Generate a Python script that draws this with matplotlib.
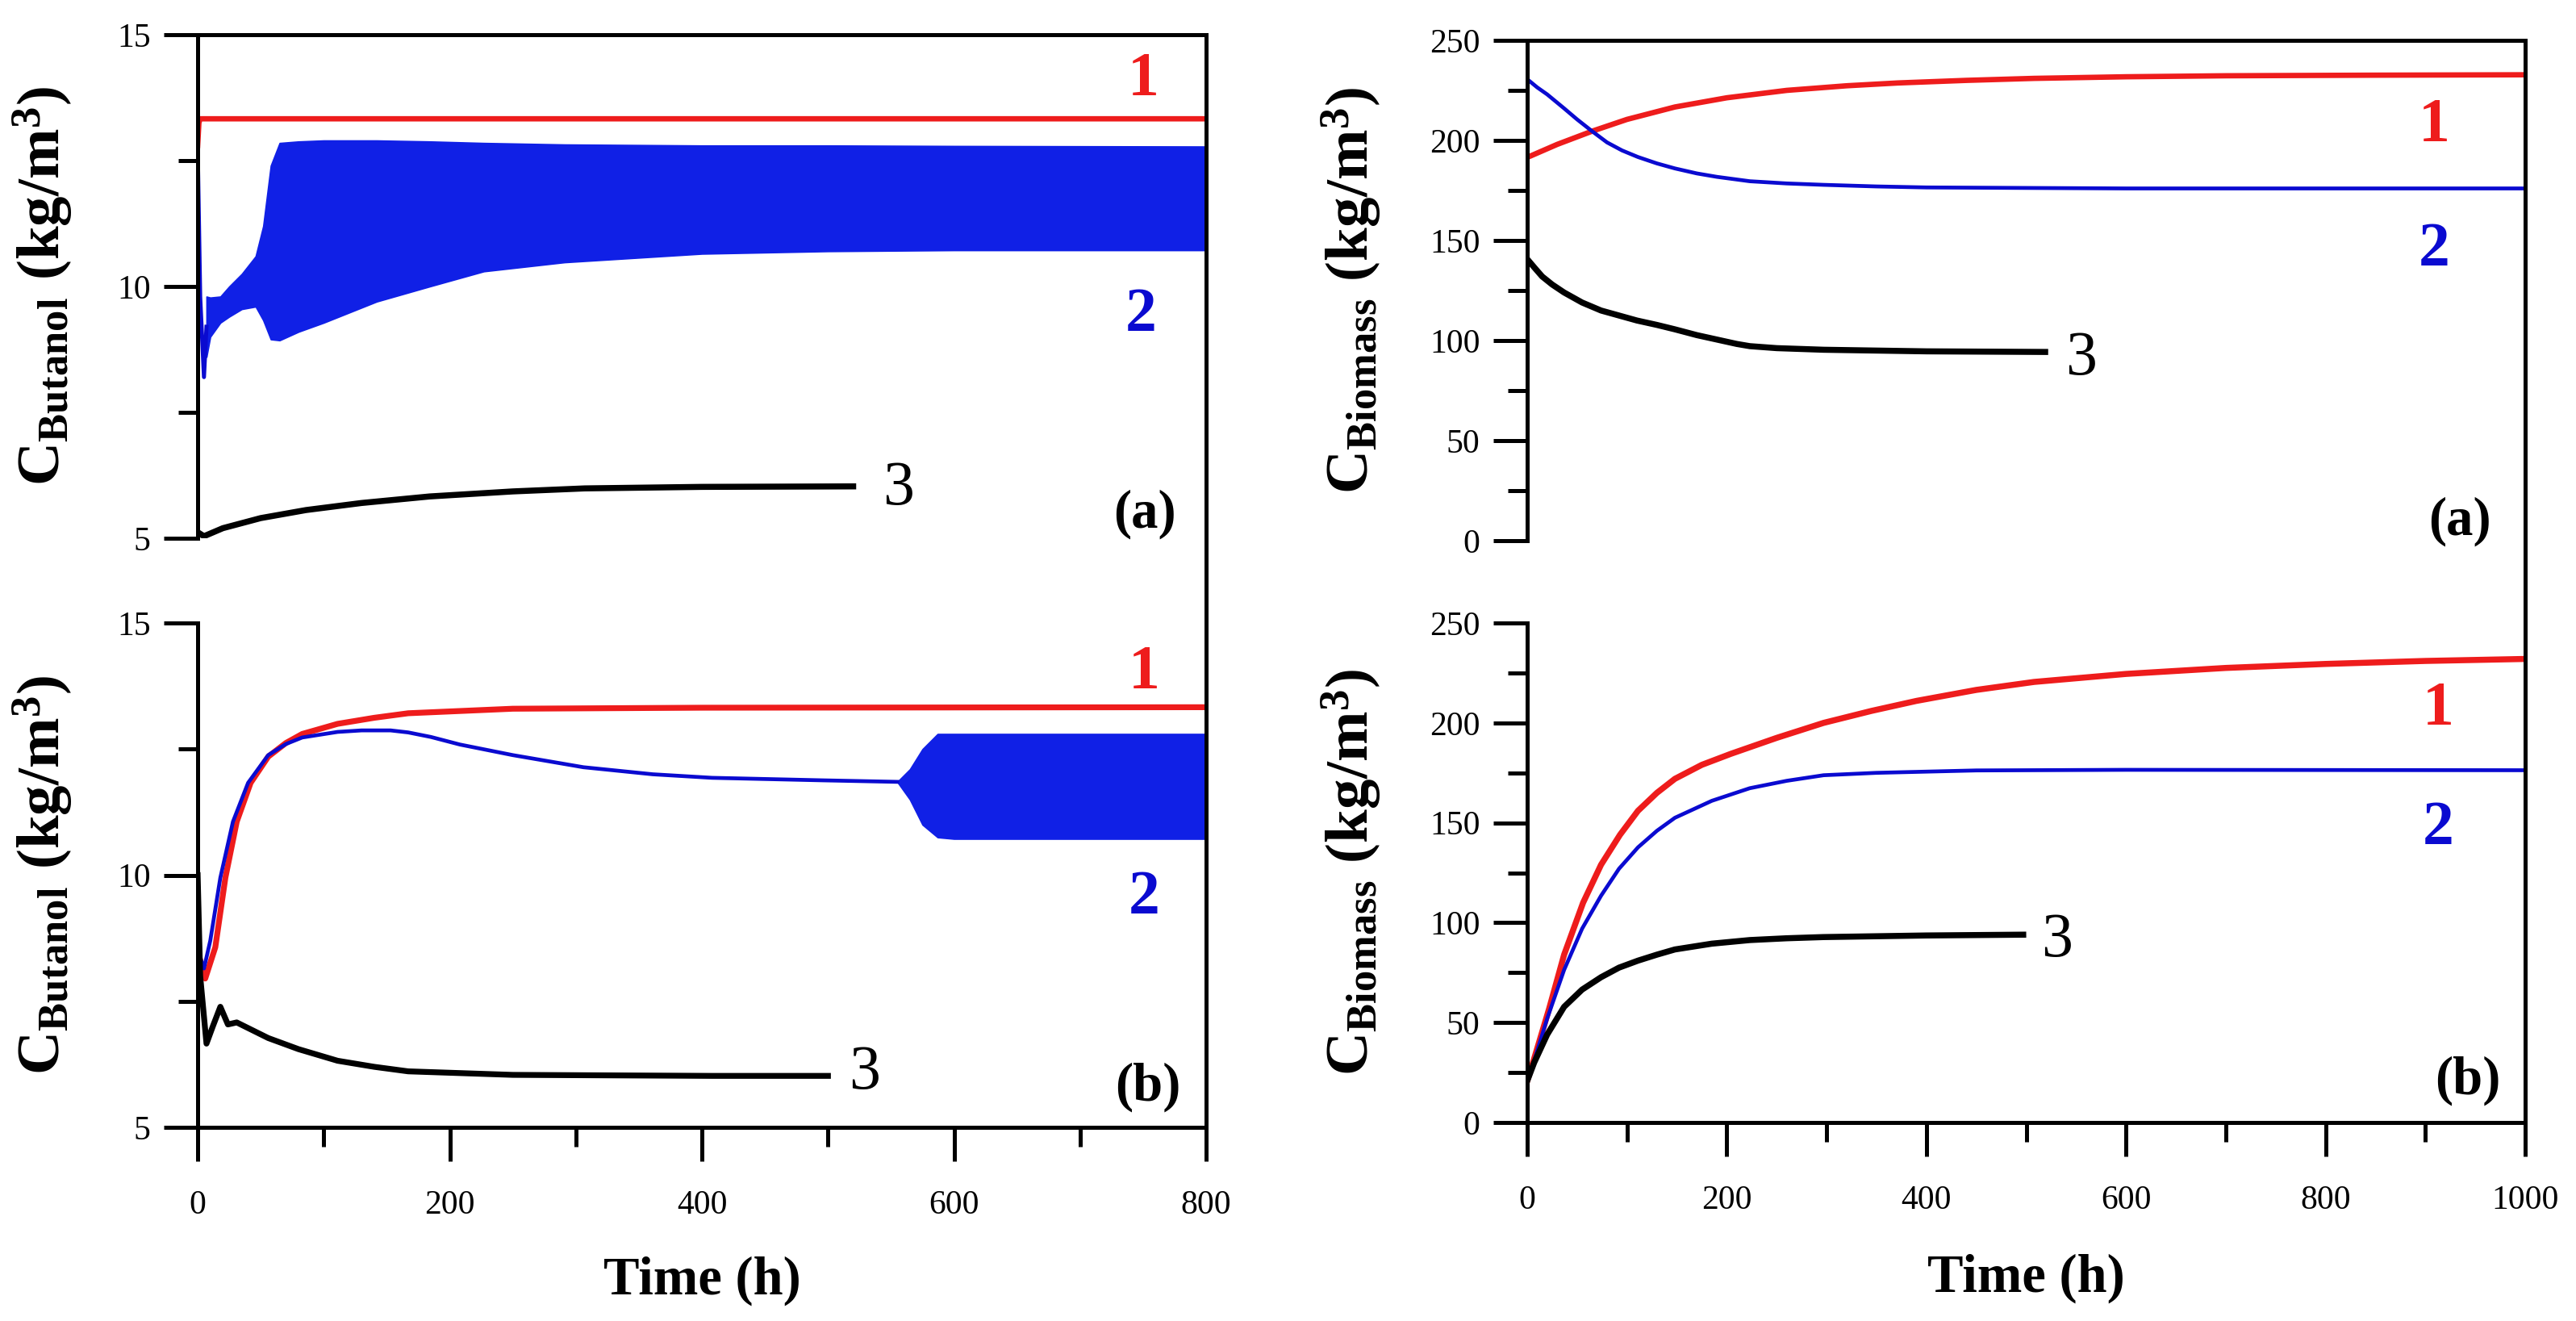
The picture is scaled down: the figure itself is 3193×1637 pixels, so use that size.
import matplotlib
matplotlib.use('Agg')
import matplotlib.pyplot as plt
from matplotlib.lines import Line2D
from matplotlib.ticker import MultipleLocator

plt.rcParams['font.family'] = 'Liberation Serif'
plt.rcParams['mathtext.fontset'] = 'custom'
plt.rcParams['mathtext.rm'] = 'Liberation Serif:bold'
plt.rcParams['mathtext.bf'] = 'Liberation Serif:bold'
plt.rcParams['mathtext.it'] = 'Liberation Serif:bold'

RED = '#ee1c1c'
BLUE = '#0a0ad0'
BAND = '#1020e6'

# ---- butanol, panel (a) ----
bu_a_red_t = [0, 1, 2, 800]
bu_a_red = [12.8, 13.25, 13.33, 13.33]
bu_a_blue_t = [0, 2, 5, 7]
bu_a_blue = [12.8, 9.8, 8.2, 9.2]
bu_a_band_t = [7, 10, 18, 25, 35, 46, 52, 58, 65, 80, 100, 142, 184, 227, 291, 400, 500, 600, 800]
bu_a_band_hi = [9.8, 9.78, 9.8, 10.0, 10.25, 10.6, 11.2, 12.4, 12.85, 12.88, 12.9, 12.9,
                12.88, 12.85, 12.82, 12.8, 12.8, 12.79, 12.78]
bu_a_band_lo = [8.6, 9.0, 9.28, 9.4, 9.55, 9.6, 9.33, 8.95, 8.93, 9.1, 9.28, 9.7,
                10.0, 10.3, 10.48, 10.65, 10.7, 10.72, 10.72]
bu_a_black_t = [0, 5, 20, 50, 86, 130, 184, 250, 307, 400, 520]
bu_a_black = [5.12, 5.04, 5.2, 5.4, 5.56, 5.7, 5.83, 5.93, 5.99, 6.02, 6.03]

# ---- butanol, panel (b) ----
bu_b_red_t = [0, 6, 14, 22, 31, 42, 56, 70, 83, 111, 140, 167, 250, 400, 800]
bu_b_red = [8.5, 7.95, 8.57, 9.95, 11.06, 11.83, 12.35, 12.62, 12.8, 13.0, 13.12, 13.21, 13.3, 13.32, 13.33]
bu_b_blue_t = [0, 5, 10, 18, 28, 40, 56, 70, 83, 111, 130, 153, 167, 185, 208, 250, 306, 361, 408, 496, 555]
bu_b_blue = [8.5, 8.15, 8.7, 9.95, 11.06, 11.83, 12.38, 12.6, 12.73, 12.84, 12.87, 12.87, 12.83,
             12.74, 12.59, 12.38, 12.14, 12.0, 11.93, 11.88, 11.85]
bu_b_band_t = [555, 565, 575, 587, 600, 800]
bu_b_band_hi = [11.85, 12.1, 12.5, 12.8, 12.8, 12.8]
bu_b_band_lo = [11.85, 11.5, 11.0, 10.75, 10.72, 10.72]
bu_b_black_t = [0, 2, 7, 12, 18, 24, 31, 56, 80, 111, 140, 167, 250, 408, 500]
bu_b_black = [10.0, 8.0, 6.66, 7.0, 7.39, 7.04, 7.08, 6.77, 6.55, 6.32, 6.2, 6.11, 6.04, 6.02, 6.02]

# ---- biomass, panel (a) ----
bi_a_red_t = [0, 30, 65, 100, 148, 200, 260, 320, 371, 440, 508, 600, 700, 850, 1000]
bi_a_red = [191.5, 198, 204.6, 210.5, 216.7, 221.3, 225, 227.3, 228.7, 230, 231, 231.8, 232.3, 232.6, 232.8]
bi_a_blue_t = [0, 10, 20, 37, 50, 65, 80, 95, 111, 130, 148, 170, 190, 223, 260, 297, 350, 400, 600, 1000]
bi_a_blue = [230.6, 226.5, 223, 216, 210.5, 204.6, 199, 195, 191.7, 188.5, 186, 183.5, 181.8,
             179.6, 178.5, 177.8, 177, 176.5, 176, 176]
bi_a_black_t = [0, 8, 15, 25, 37, 55, 74, 92, 110, 130, 148, 170, 190, 210, 223, 250, 297, 400, 519]
bi_a_black = [140.7, 136, 132, 128, 124, 119, 115, 112.5, 110, 107.8, 105.6, 102.7, 100.5, 98.3,
              97.2, 96.2, 95.4, 94.6, 94.3]

# ---- biomass, panel (b) ----
bi_b_red_t = [0, 7, 22, 37, 56, 74, 93, 111, 130, 148, 175, 204, 250, 297, 345, 390, 450, 508,
              600, 700, 800, 900, 1000]
bi_b_red = [20.8, 32, 57, 84, 110, 129, 144, 156, 165, 172, 179, 184.5, 192.5, 200, 206, 211,
            216.5, 220.5, 224.5, 227.5, 229.5, 231, 232]
bi_b_blue_t = [0, 7, 20, 37, 55, 74, 92, 111, 130, 148, 185, 223, 260, 297, 350, 450, 600, 1000]
bi_b_blue = [20.8, 31, 52, 76.4, 97, 113.5, 127, 137.7, 146, 152.5, 161, 167.3, 171, 173.8, 175,
             176.2, 176.5, 176.3]
bi_b_black_t = [0, 7, 20, 37, 55, 74, 92, 111, 130, 148, 185, 223, 260, 297, 400, 497]
bi_b_black = [20.8, 30, 44, 57.9, 66.5, 72.7, 77.5, 81, 84, 86.6, 89.5, 91.3, 92.2, 92.8, 93.6, 94]

W, H, DPI = 3193, 1637, 200
fig = plt.figure(figsize=(W / DPI, H / DPI), dpi=DPI)

def px_axes(x0, x1, ytop, ybot):
    return fig.add_axes([x0 / W, 1 - ybot / H, (x1 - x0) / W, (ybot - ytop) / H])

ax1 = px_axes(245, 1495, 43, 667)
ax2 = px_axes(245, 1495, 772, 1397)
ax3 = px_axes(1893, 3130, 50, 670)
ax4 = px_axes(1893, 3130, 772, 1391)

LW = 1.8
for ax in (ax1, ax2, ax3, ax4):
    for s in ax.spines.values():
        s.set_linewidth(LW)
    ax.tick_params(which='major', direction='out', length=15, width=LW, labelsize=15, pad=6)
    ax.tick_params(which='minor', direction='out', length=8.5, width=LW)
    ax.tick_params(axis='x', which='major', pad=13)

for ax in (ax1, ax3):
    ax.spines['bottom'].set_visible(False)
    ax.tick_params(axis='x', which='both', bottom=False, labelbottom=False)
for ax in (ax2, ax4):
    ax.spines['top'].set_visible(False)

for ax in (ax1, ax2):
    ax.set_xlim(0, 800)
    ax.set_ylim(5, 15)
    ax.yaxis.set_major_locator(MultipleLocator(5))
    ax.yaxis.set_minor_locator(MultipleLocator(2.5))
    ax.xaxis.set_major_locator(MultipleLocator(200))
    ax.xaxis.set_minor_locator(MultipleLocator(100))
    ax.set_ylabel(r'$\mathbf{C_{Butanol}\ (kg/m^{3})}$', fontsize=27)
    ax.yaxis.set_label_coords(-0.122, 0.5)
for ax in (ax3, ax4):
    ax.set_xlim(0, 1000)
    ax.set_ylim(0, 250)
    ax.yaxis.set_major_locator(MultipleLocator(50))
    ax.yaxis.set_minor_locator(MultipleLocator(25))
    ax.xaxis.set_major_locator(MultipleLocator(200))
    ax.xaxis.set_minor_locator(MultipleLocator(100))
    ax.set_ylabel(r'$\mathbf{C_{Biomass}\ (kg/m^{3})}$', fontsize=27)
    ax.yaxis.set_label_coords(-0.145, 0.5)

ax2.set_xlabel('Time (h)', fontsize=24, fontweight='bold')
ax2.xaxis.set_label_coords(0.5, -0.255)
ax4.set_xlabel('Time (h)', fontsize=24, fontweight='bold')
ax4.xaxis.set_label_coords(0.5, -0.262)

# panel (a) butanol
ax1.plot(bu_a_red_t, bu_a_red, color=RED, lw=2.4)
ax1.plot(bu_a_blue_t, bu_a_blue, color=BLUE, lw=1.8)
ax1.fill_between(bu_a_band_t, bu_a_band_lo, bu_a_band_hi, color=BAND, lw=0.6)
ax1.plot(bu_a_black_t, bu_a_black, color='black', lw=2.7)

# panel (b) butanol
ax2.plot(bu_b_red_t, bu_b_red, color=RED, lw=2.6)
ax2.plot(bu_b_blue_t, bu_b_blue, color=BLUE, lw=1.7)
ax2.fill_between(bu_b_band_t, bu_b_band_lo, bu_b_band_hi, color=BAND, lw=0.6)
ax2.plot(bu_b_black_t, bu_b_black, color='black', lw=2.6)

# panel (a) biomass
ax3.plot(bi_a_red_t, bi_a_red, color=RED, lw=2.4)
ax3.plot(bi_a_blue_t, bi_a_blue, color=BLUE, lw=1.7)
ax3.plot(bi_a_black_t, bi_a_black, color='black', lw=2.7)

# panel (b) biomass
ax4.plot(bi_b_red_t, bi_b_red, color=RED, lw=2.7)
ax4.plot(bi_b_blue_t, bi_b_blue, color=BLUE, lw=1.7)
ax4.plot(bi_b_black_t, bi_b_black, color='black', lw=2.7)

lab = dict(fontsize=28, ha='center', va='center')
ax1.text(750, 14.1, '1', color=RED, fontweight='bold', **lab)
ax1.text(748, 9.42, '2', color=BLUE, fontweight='bold', **lab)
ax1.text(556, 5.98, '3', color='black', **lab)
ax1.text(776, 5.48, '(a)', fontsize=24, fontweight='bold', ha='right', va='center')

ax2.text(751, 14.0, '1', color=RED, fontweight='bold', **lab)
ax2.text(751, 9.54, '2', color=BLUE, fontweight='bold', **lab)
ax2.text(529, 6.06, '3', color='black', **lab)
ax2.text(780, 5.8, '(b)', fontsize=24, fontweight='bold', ha='right', va='center')

ax3.text(909, 207, '1', color=RED, fontweight='bold', **lab)
ax3.text(909, 145, '2', color=BLUE, fontweight='bold', **lab)
ax3.text(555, 90.7, '3', color='black', **lab)
ax3.text(966, 9.7, '(a)', fontsize=24, fontweight='bold', ha='right', va='center')

ax4.text(913, 206.4, '1', color=RED, fontweight='bold', **lab)
ax4.text(913, 147, '2', color=BLUE, fontweight='bold', **lab)
ax4.text(531, 90.9, '3', color='black', **lab)
ax4.text(975, 21, '(b)', fontsize=24, fontweight='bold', ha='right', va='center')

# right frame line runs through the gap between stacked panels
for top, bot in ((ax1, ax2), (ax3, ax4)):
    pt, pb = top.get_position(), bot.get_position()
    fig.add_artist(Line2D([pt.x1, pt.x1], [pb.y1, pt.y0], color='black', lw=LW,
                          transform=fig.transFigure))

fig.savefig('out.png', dpi=DPI, facecolor='white')
